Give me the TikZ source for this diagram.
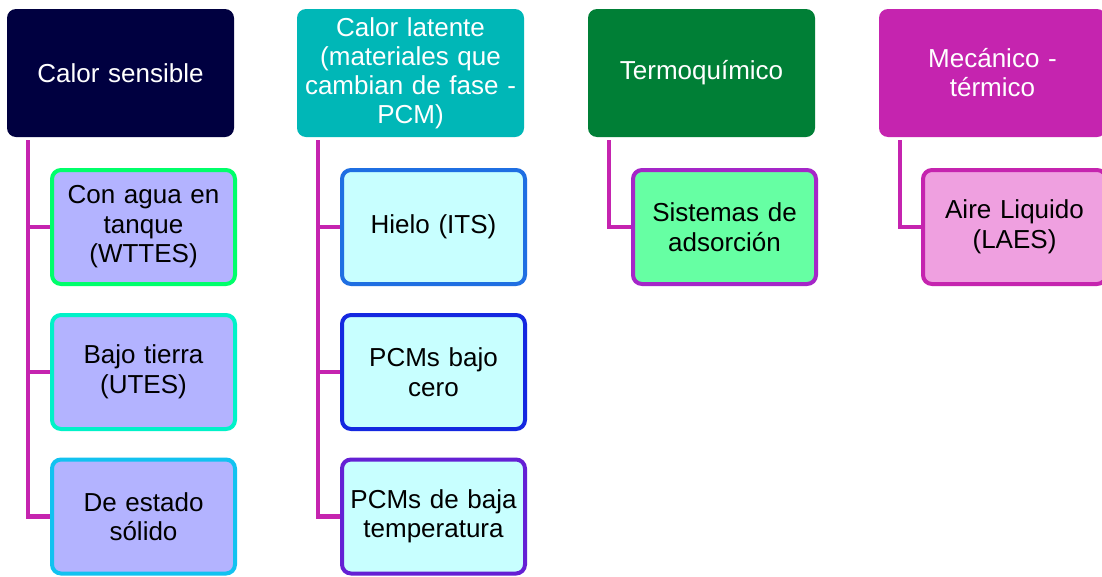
\documentclass[tikz,border=0pt]{standalone}
\usepackage{fontspec}
\setmainfont{Liberation Sans}
\definecolor{hnavy}{HTML}{000040}
\definecolor{hteal}{HTML}{00B7B7}
\definecolor{hgreen}{HTML}{007F36}
\definecolor{hmag}{HTML}{C524AF}
\definecolor{fviolet}{HTML}{B3B3FF}
\definecolor{fcyan}{HTML}{C8FFFF}
\definecolor{fmint}{HTML}{66FFA3}
\definecolor{fpink}{HTML}{EFA0E0}
\definecolor{bgreen}{HTML}{00FF6A}
\definecolor{baqua}{HTML}{00F2C8}
\definecolor{bsky}{HTML}{12C2F0}
\definecolor{bblue}{HTML}{1F6FE2}
\definecolor{bdblue}{HTML}{1428E0}
\definecolor{bpurple}{HTML}{6420D4}
\definecolor{bviolet}{HTML}{A526C8}
\tikzset{
  hbox/.style={rounded corners=9pt, minimum width=227pt, minimum height=128pt, inner sep=0pt,
    text width=219pt, align=center, text=white, font=\fontsize{26}{29}\selectfont},
  cbox/.style={rounded corners=9pt, line width=4pt, minimum width=183pt, minimum height=114pt,
    inner sep=0pt, text width=179pt, align=center, text=black, font=\fontsize{26}{29.5}\selectfont},
  conn/.style={draw=hmag, line width=4.5pt}
}
\begin{document}
\begin{tikzpicture}[x=1pt,y=-1pt]
\useasboundingbox (0,0) rectangle (1102,576);
\fill[white] (0,0) rectangle (1102,576);
% headers
\node[hbox, fill=hnavy] (h1) at (120.5,73) {Calor sensible};
\node[hbox, fill=hteal] (h2) at (410.5,73) {Calor latente\\(materiales que\\cambian de fase -\\PCM)};
\node[hbox, fill=hgreen] (h3) at (701.5,73) {Termoquímico};
\node[hbox, fill=hmag] (h4) at (992.5,73) {Mecánico -\\térmico};
% column 1
\node[cbox, draw=bgreen, fill=fviolet] (c11) at (143.5,227) {Con agua en\\tanque\\(WTTES)};
\node[cbox, draw=baqua, fill=fviolet] (c12) at (143.5,372) {Bajo tierra\\(UTES)};
\node[cbox, draw=bsky, fill=fviolet] (c13) at (143.5,516.5) {De estado\\sólido};
% column 2
\node[cbox, draw=bblue, fill=fcyan] (c21) at (433.5,227) {Hielo (ITS)};
\node[cbox, draw=bdblue, fill=fcyan] (c22) at (433.5,372) {PCMs bajo\\cero};
\node[cbox, draw=bpurple, fill=fcyan] (c23) at (433.5,516.5) {PCMs de baja\\temperatura};
% column 3
\node[cbox, draw=bviolet, fill=fmint] (c31) at (724.5,227) {Sistemas de\\adsorción};
% column 4
\node[cbox, draw=hmag, fill=fpink] (c41) at (1014.5,227) {Aire Liquido\\(LAES)};
% connectors
\draw[conn] ([xshift=21pt,yshift=-3pt]h1.south west) |- (c11.west);
\draw[conn] ([xshift=21pt,yshift=-3pt]h1.south west) |- (c12.west);
\draw[conn] ([xshift=21pt,yshift=-3pt]h1.south west) |- (c13.west);
\draw[conn] ([xshift=21pt,yshift=-3pt]h2.south west) |- (c21.west);
\draw[conn] ([xshift=21pt,yshift=-3pt]h2.south west) |- (c22.west);
\draw[conn] ([xshift=21pt,yshift=-3pt]h2.south west) |- (c23.west);
\draw[conn] ([xshift=21pt,yshift=-3pt]h3.south west) |- (c31.west);
\draw[conn] ([xshift=21pt,yshift=-3pt]h4.south west) |- (c41.west);
\end{tikzpicture}
\end{document}
